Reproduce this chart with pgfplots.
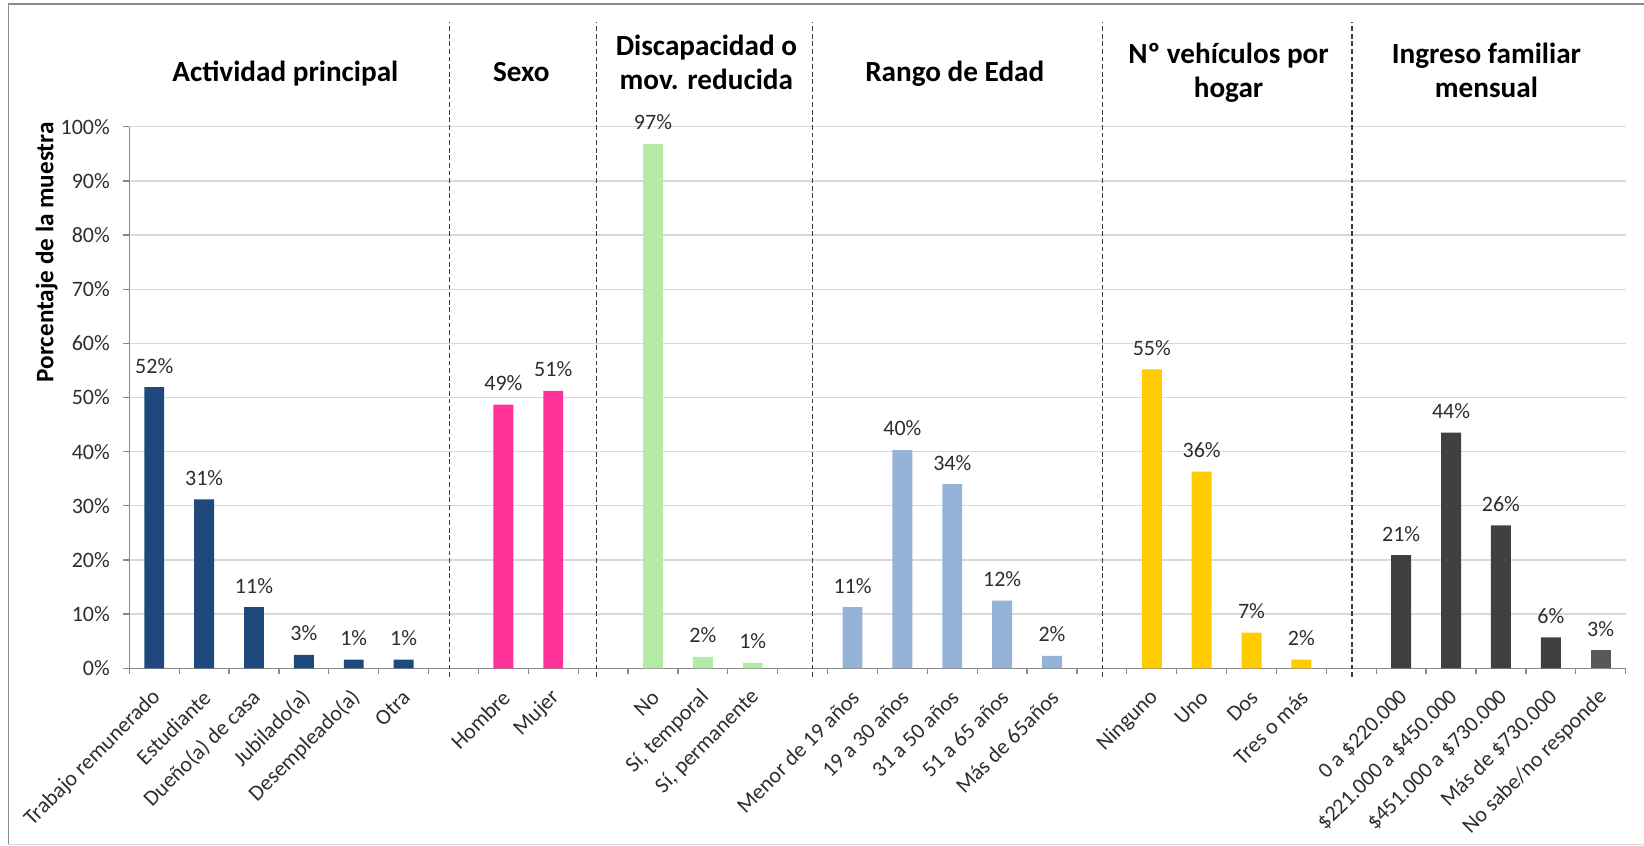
\documentclass[border=0pt]{standalone}
\usepackage{pgfplots}
\pgfplotsset{compat=1.18}
\usepackage{fontspec}
\setmainfont{Carlito}
\definecolor{cNavy}{HTML}{1F497D}
\definecolor{cPink}{HTML}{FF3399}
\definecolor{cGreen}{HTML}{B4EBA6}
\definecolor{cLBlue}{HTML}{95B3D7}
\definecolor{cYellow}{HTML}{FFCC00}
\definecolor{cDGray}{HTML}{404040}
\definecolor{cMGray}{HTML}{595959}
\definecolor{axisgray}{HTML}{898989}
\definecolor{gridgray}{HTML}{D9D9D9}
\definecolor{labelgray}{HTML}{2E2E2E}
\definecolor{bordergray}{HTML}{8C8C8C}
\definecolor{sepgray}{HTML}{3A3A3A}
\newcommand\ticksize{\fontsize{11}{12.5}\selectfont}
\newcommand\titlesize{\fontsize{14.6}{17}\selectfont\bfseries}
\newcommand\ylabsize{\fontsize{12.6}{14}\selectfont\bfseries}
\pgfplotsset{
  mybar/.style={ybar, bar width=0.4, bar shift=0pt, fill=#1, draw=none,
    point meta=explicit symbolic,
    nodes near coords={\pgfplotspointmeta\%},
    nodes near coords style={font=\ticksize, color=labelgray, anchor=south, yshift=3.4pt}},
}
\tikzset{sepline/.style={color=sepgray, line width=0.8pt, dash pattern=on 2.4pt off 1.4pt}}
\begin{document}
\begin{tikzpicture}
\path[use as bounding box] (0,0) rectangle (822pt,423pt);
\draw[bordergray, line width=0.6pt] (4.2pt,0.6pt) -- (4.2pt,421pt) -- (822pt,421pt);
\draw[gridgray, line width=0.6pt] (4.2pt,0.6pt) -- (822pt,0.6pt);
\begin{axis}[
  at={(64.65pt,88.85pt)}, anchor=south west,
  scale only axis, width=748.15pt, height=270.8pt,
  xmin=-0.5, xmax=29.5, ymin=0, ymax=100,
  axis x line*=bottom, axis y line*=left,
  axis line style={color=axisgray, line width=0.65pt},
  clip=false,
  ytick={0,10,20,30,40,50,60,70,80,90,100},
  yticklabels={0\%,10\%,20\%,30\%,40\%,50\%,60\%,70\%,80\%,90\%,100\%},
  ymajorgrids, grid style={color=gridgray, line width=0.65pt},
  xtick={0,...,29},
  xticklabels={Trabajo remunerado,Estudiante,Dueño(a) de casa,Jubilado(a),Desempleado(a),Otra,{},
    Hombre,Mujer,{},
    No,{Sí, temporal},{Sí, permanente},{},
    Menor de 19 años,19 a 30 años,31 a 50 años,51 a 65 años,Más de 65años,{},
    Ninguno,Uno,Dos,Tres o más,{},
    0 a \$220.000,\$221.000 a \$450.000,\$451.000 a \$730.000,Más de \$730.000,No sabe/no responde},
  minor xtick={-0.5,0.5,...,29.5},
  tick align=outside,
  major tick length=3.2pt, minor tick length=2.8pt,
  tick style={color=axisgray, line width=0.65pt},
  major x tick style={draw=none},
  yticklabel style={font=\ticksize, color=labelgray, xshift=-3pt},
  xticklabel style={font=\ticksize, color=labelgray, yshift=-9.5pt, xshift=1.5pt, rotate=45, anchor=east, inner sep=0pt},
]
\addplot[mybar=cNavy] table[meta=lab] {
x y lab
0 51.9 52
1 31.2 31
2 11.3 11
3 2.5 3
4 1.6 1
5 1.6 1
};
\addplot[mybar=cPink] table[meta=lab] {
x y lab
7 48.7 49
8 51.2 51
};
\addplot[mybar=cGreen] table[meta=lab] {
x y lab
10 96.8 97
11 2.1 2
12 1.0 1
};
\addplot[mybar=cLBlue] table[meta=lab] {
x y lab
14 11.3 11
15 40.3 40
16 34.0 34
17 12.5 12
18 2.3 2
};
\addplot[mybar=cYellow] table[meta=lab] {
x y lab
20 55.2 55
21 36.3 36
22 6.6 7
23 1.6 2
};
\addplot[mybar=cDGray] table[meta=lab] {
x y lab
25 20.9 21
26 43.5 44
27 26.4 26
28 5.7 6
};
\addplot[mybar=cMGray] table[meta=lab] {
x y lab
29 3.3 3
};
\draw[sepline] (axis cs:5.92,-1.6) -- (axis cs:5.92,119.4);
\draw[sepline] (axis cs:8.87,-1.6) -- (axis cs:8.87,119.4);
\draw[sepline] (axis cs:13.20,-1.6) -- (axis cs:13.20,119.4);
\draw[sepline] (axis cs:19.01,-1.6) -- (axis cs:19.01,119.4);
\draw[sepline] (axis cs:24.02,-1.6) -- (axis cs:24.02,119.4);
\node[anchor=base, font=\titlesize] at (axis cs:2.63,108.3) {Actividad principal};
\node[anchor=base, font=\titlesize] at (axis cs:7.36,108.3) {Sexo};
\node[anchor=base, font=\titlesize] at (axis cs:11.07,113.2) {Discapacidad o};
\node[anchor=base, font=\titlesize] at (axis cs:11.07,106.9) {mov. reducida};
\node[anchor=base, font=\titlesize] at (axis cs:16.05,108.3) {Rango de Edad};
\node[anchor=base, font=\titlesize] at (axis cs:21.54,111.6) {Nº vehículos por};
\node[anchor=base, font=\titlesize] at (axis cs:21.54,105.4) {hogar};
\node[anchor=base, font=\titlesize] at (axis cs:26.71,111.6) {Ingreso familiar};
\node[anchor=base, font=\titlesize] at (axis cs:26.71,105.4) {mensual};
\node[rotate=90, font=\ylabsize] at (axis cs:-2.156,76.8) {Porcentaje de la muestra};
\end{axis}
\end{tikzpicture}
\end{document}
